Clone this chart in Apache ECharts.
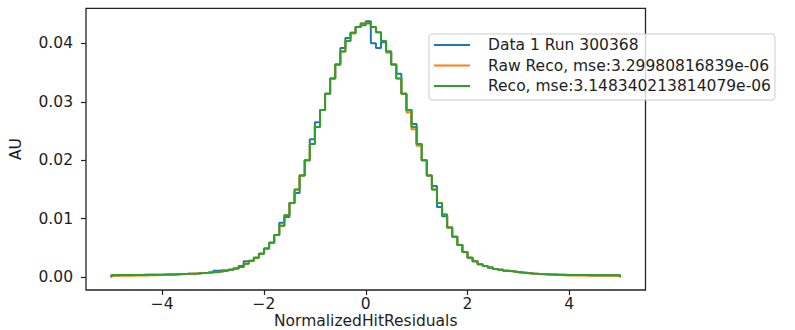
<!DOCTYPE html>
<html>
<head>
<meta charset="utf-8">
<script src="https://cdn.jsdelivr.net/npm/echarts@6/dist/echarts.min.js"></script>
<style>
  html, body { margin: 0; padding: 0; background: #fff; overflow: hidden; }
  #chart { width: 795px; height: 330px; }
</style>
</head>
<body>
<div id="chart"></div>
<script>
// Histogram binning: 100 bins of width 0.1 covering [-5, 5]
const binStart = -5;
const binWidth = 0.1;

const seriesNames = [
  'Data 1 Run 300368',
  'Raw Reco, mse:3.29980816839e-06',
  'Reco, mse:3.148340213814079e-06'
];

// Normalised bin contents (AU), one value per bin, left to right
const dataValues = [
  0.00034, 0.00035, 0.00035, 0.00036, 0.00037, 0.00038, 0.00039, 0.00040, 0.00041, 0.00043,
  0.00045, 0.00047, 0.00050, 0.00053, 0.00056, 0.00060, 0.00064, 0.00069, 0.00075, 0.00082,
  0.00110, 0.00120, 0.00112, 0.00127, 0.00146, 0.00190, 0.00270, 0.00280, 0.00330, 0.00400,
  0.00490, 0.00590, 0.00720, 0.00930, 0.01030, 0.01270, 0.01440, 0.01740, 0.02000, 0.02360,
  0.02650, 0.02860, 0.03140, 0.03400, 0.03640, 0.03920, 0.04090, 0.04180, 0.04280, 0.04310,
  0.04380, 0.04000, 0.03920, 0.04020, 0.03860, 0.03640, 0.03480, 0.03140, 0.02860, 0.02620,
  0.02280, 0.02000, 0.01740, 0.01560, 0.01200, 0.01040, 0.00850, 0.00690, 0.00550, 0.00430,
  0.00330, 0.00270, 0.00220, 0.00190, 0.00170, 0.00140, 0.00125, 0.00110, 0.00100, 0.00090,
  0.00078, 0.00070, 0.00063, 0.00057, 0.00052, 0.00048, 0.00045, 0.00042, 0.00040, 0.00038,
  0.00037, 0.00036, 0.00035, 0.00034, 0.00034, 0.00033, 0.00033, 0.00032, 0.00032, 0.00031
];

const rawRecoValues = [
  0.00022, 0.00023, 0.00024, 0.00025, 0.00026, 0.00028, 0.00030, 0.00032, 0.00034, 0.00037,
  0.00040, 0.00043, 0.00047, 0.00051, 0.00055, 0.00059, 0.00064, 0.00069, 0.00075, 0.00082,
  0.00090, 0.00100, 0.00112, 0.00127, 0.00146, 0.00172, 0.00230, 0.00280, 0.00330, 0.00400,
  0.00490, 0.00590, 0.00720, 0.00880, 0.01060, 0.01270, 0.01500, 0.01740, 0.02000, 0.02280,
  0.02570, 0.02860, 0.03140, 0.03400, 0.03640, 0.03860, 0.04040, 0.04170, 0.04280, 0.04340,
  0.04350, 0.04280, 0.04190, 0.04040, 0.03840, 0.03640, 0.03400, 0.03140, 0.02820, 0.02530,
  0.02250, 0.02000, 0.01740, 0.01500, 0.01270, 0.01070, 0.00850, 0.00690, 0.00550, 0.00430,
  0.00330, 0.00270, 0.00220, 0.00190, 0.00160, 0.00140, 0.00125, 0.00110, 0.00100, 0.00090,
  0.00076, 0.00068, 0.00060, 0.00054, 0.00048, 0.00043, 0.00039, 0.00035, 0.00032, 0.00030,
  0.00028, 0.00027, 0.00026, 0.00025, 0.00024, 0.00023, 0.00023, 0.00022, 0.00022, 0.00021
];

const recoValues = [
  0.00034, 0.00035, 0.00035, 0.00036, 0.00037, 0.00038, 0.00039, 0.00040, 0.00041, 0.00043,
  0.00045, 0.00047, 0.00050, 0.00053, 0.00056, 0.00060, 0.00064, 0.00069, 0.00075, 0.00082,
  0.00090, 0.00100, 0.00112, 0.00127, 0.00146, 0.00172, 0.00230, 0.00280, 0.00330, 0.00400,
  0.00490, 0.00590, 0.00720, 0.00880, 0.01060, 0.01270, 0.01500, 0.01740, 0.02000, 0.02280,
  0.02570, 0.02860, 0.03140, 0.03400, 0.03640, 0.03860, 0.04040, 0.04180, 0.04280, 0.04340,
  0.04350, 0.04280, 0.04190, 0.04040, 0.03860, 0.03640, 0.03400, 0.03140, 0.02860, 0.02570,
  0.02280, 0.02000, 0.01740, 0.01500, 0.01270, 0.01070, 0.00850, 0.00690, 0.00550, 0.00430,
  0.00330, 0.00270, 0.00220, 0.00190, 0.00160, 0.00140, 0.00125, 0.00110, 0.00100, 0.00090,
  0.00078, 0.00070, 0.00063, 0.00057, 0.00052, 0.00048, 0.00045, 0.00042, 0.00040, 0.00038,
  0.00037, 0.00036, 0.00035, 0.00035, 0.00034, 0.00034, 0.00033, 0.00033, 0.00032, 0.00032
];

const xTicks = [-4, -2, 0, 2, 4];
const yTicks = [0, 0.01, 0.02, 0.03, 0.04];

const colors = ['#1f77b4', '#ff7f0e', '#2ca02c'];
const FONT = 'DejaVu Sans';
const TEXT = '#1e1e1e';

// Turn bin contents into a step outline that starts and ends on the baseline
function stepOutline(values) {
  const pts = [[binStart, 0]];
  values.forEach((v, i) => pts.push([binStart + i * binWidth, v]));
  const end = binStart + values.length * binWidth;
  pts.push([end, values[values.length - 1]]);
  pts.push([end, 0]);
  return pts;
}

const chart = echarts.init(document.getElementById('chart'), null, { renderer: 'svg' });

const allValues = [dataValues, rawRecoValues, recoValues];

chart.setOption({
  animation: false,
  backgroundColor: '#fff',
  grid: {
    left: 86, right: 149.5, top: 8.3, bottom: 40,
    outerBoundsMode: 'none', containLabel: false,
    show: true, borderColor: '#222', borderWidth: 1.3, backgroundColor: 'transparent'
  },
  xAxis: {
    type: 'value', min: -5.5, max: 5.5,
    name: 'NormalizedHitResiduals', nameLocation: 'middle', nameGap: 24,
    nameMoveOverlap: false,
    nameTextStyle: { fontFamily: FONT, fontSize: 15.5, lineHeight: 14, color: TEXT },
    axisLine: { show: false, onZero: false },
    splitLine: { show: false },
    axisTick: { show: true, length: 5, lineStyle: { color: '#222', width: 1.2 }, customValues: xTicks },
    axisLabel: {
      fontFamily: FONT, fontSize: 15.5, lineHeight: 14, color: TEXT, margin: 7,
      customValues: xTicks,
      formatter: v => (v < 0 ? '\u2212' : '') + Math.abs(v)
    }
  },
  yAxis: {
    type: 'value', min: -0.0022, max: 0.046,
    name: 'AU', nameLocation: 'middle', nameGap: 62, nameRotate: 90,
    nameTextStyle: { fontFamily: FONT, fontSize: 15.5, color: TEXT },
    axisLine: { show: false, onZero: false },
    splitLine: { show: false },
    axisTick: { show: true, length: 5, lineStyle: { color: '#222', width: 1.2 }, customValues: yTicks },
    axisLabel: {
      fontFamily: FONT, fontSize: 15.5, color: TEXT, margin: 13,
      customValues: yTicks,
      formatter: v => v.toFixed(2)
    }
  },
  legend: {
    orient: 'vertical',
    left: 429, top: 34,
    data: seriesNames,
    icon: 'rect', itemWidth: 36, itemHeight: 2, itemGap: 4.5,
    padding: [3, 4, 6, 5],
    backgroundColor: 'rgba(255,255,255,0.8)',
    borderColor: '#cccccc', borderWidth: 1, borderRadius: 3,
    textStyle: { fontFamily: FONT, fontSize: 15.5, lineHeight: 15, color: TEXT, padding: [0, 0, 0, 13] }
  },
  series: allValues.map((vals, i) => ({
    name: seriesNames[i],
    type: 'line',
    step: 'end',
    showSymbol: false,
    symbol: 'none',
    color: colors[i],
    lineStyle: { color: colors[i], width: 2 },
    data: stepOutline(vals),
    z: 2 + i
  }))
});
</script>
</body>
</html>
